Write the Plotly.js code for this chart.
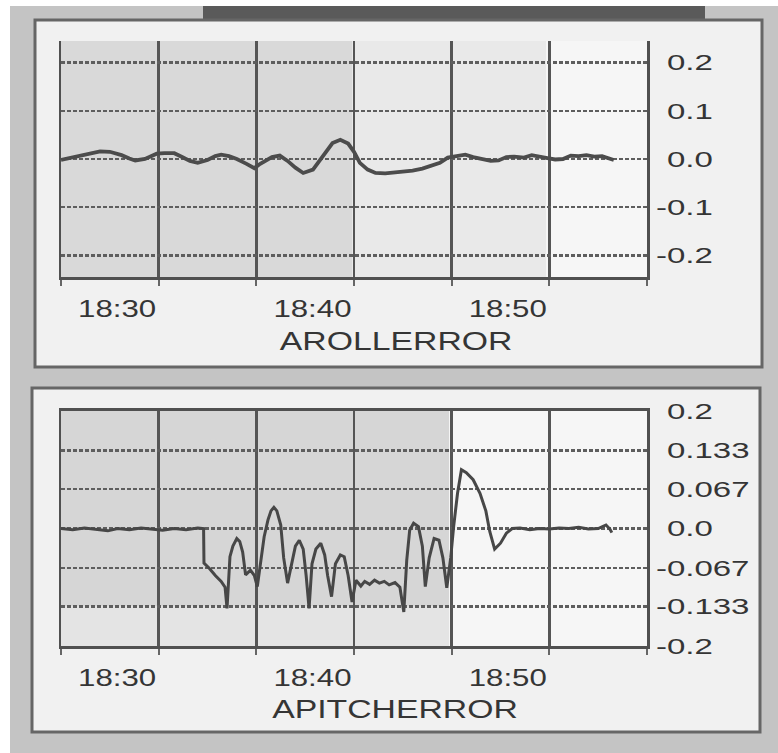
<!DOCTYPE html>
<html>
<head>
<meta charset="utf-8">
<script src="https://cdn.plot.ly/plotly-3.0.1.min.js"></script>
<style>
  html, body { margin: 0; padding: 0; background: #ffffff; }
  #chart { width: 778px; height: 753px; }
</style>
</head>
<body>
<div id="chart"></div>
<script>
// ---- time axis (minutes after 18:00) ----
const tickVals = [25, 30, 35, 40, 45, 50, 55];
const tickText = ['', '18:30', '', '18:40', '', '18:50', ''];

// ---- roll error ----
const rollTime = [25.0, 25.4, 25.9, 26.4, 27.0, 27.5, 28.1, 28.5, 28.8, 29.3,
  29.9, 30.3, 30.8, 31.2, 31.6, 32.0, 32.5, 32.9, 33.2, 33.6,
  34.0, 34.5, 34.9, 35.2, 35.5, 35.8, 36.2, 36.6, 37.0, 37.4,
  37.9, 38.4, 38.9, 39.3, 39.7, 40.0, 40.3, 40.7, 41.1, 41.6,
  42.0, 42.5, 43.0, 43.5, 44.0, 44.4, 44.8, 45.3, 45.7, 46.1,
  46.5, 47.0, 47.4, 47.8, 48.2, 48.7, 49.1, 49.5, 49.9, 50.3,
  50.7, 51.1, 51.5, 51.9, 52.3, 52.7, 53.0, 53.3];
const rollError = [-0.002, 0.002, 0.006, 0.011, 0.016, 0.015, 0.008, 0.001, -0.003, 0.000,
  0.011, 0.012, 0.012, 0.004, -0.004, -0.008, -0.002, 0.006, 0.009, 0.006,
  0.000, -0.010, -0.019, -0.010, -0.004, 0.004, 0.007, -0.004, -0.018, -0.029,
  -0.022, 0.005, 0.033, 0.040, 0.032, 0.015, -0.008, -0.022, -0.029, -0.030,
  -0.028, -0.027, -0.024, -0.020, -0.014, -0.008, 0.003, 0.006, 0.009, 0.004,
  0.000, -0.004, -0.003, 0.004, 0.005, 0.003, 0.008, 0.004, 0.002, -0.001,
  0.000, 0.007, 0.006, 0.008, 0.005, 0.006, 0.001, -0.002];
const rollTickVals = [-0.2, -0.1, 0, 0.1, 0.2];
const rollTickText = ['-0.2', '-0.1', '\u20040.0', '\u20040.1', '\u20040.2'];

// ---- pitch error ----
const pitchTime = [25.0, 25.6, 26.2, 26.8, 27.4, 27.9, 28.5, 29.1, 29.6, 30.2,
  30.8, 31.4, 32.0, 32.3, 32.32, 32.6, 32.9, 33.2, 33.4, 33.5,
  33.65, 33.8, 34.0, 34.15, 34.3, 34.45, 34.7, 34.9, 35.05, 35.2,
  35.4, 35.6, 35.75, 35.9, 36.05, 36.25, 36.4, 36.6, 36.8, 37.0, 37.2,
  37.4, 37.55, 37.7, 37.85, 38.05, 38.3, 38.5, 38.65, 38.85, 39.05,
  39.3, 39.5, 39.7, 39.9, 40.1, 40.35, 40.55, 40.8, 41.05, 41.3,
  41.55, 41.8, 42.1, 42.35, 42.55, 42.7, 42.85, 43.05, 43.3, 43.5,
  43.65, 43.85, 44.1, 44.35, 44.55, 44.75, 44.95, 45.1, 45.3, 45.5,
  45.75, 46.1, 46.45, 46.75, 46.95, 47.2, 47.5, 47.8, 48.1, 48.5,
  49.0, 49.5, 50.0, 50.5, 51.0, 51.5, 52.0, 52.5, 52.9, 53.1, 53.2];
const pitchError = [0.000, -0.002, 0.001, -0.001, -0.004, 0.000, -0.002, 0.001, -0.001, -0.003,
  0.000, -0.002, 0.001, 0.000, -0.059, -0.068, -0.080, -0.090, -0.100, -0.136,
  -0.048, -0.030, -0.017, -0.022, -0.040, -0.079, -0.071, -0.080, -0.099, -0.060,
  -0.014, 0.015, 0.030, 0.036, 0.030, 0.006, -0.050, -0.093, -0.060, -0.030, -0.020,
  -0.035, -0.080, -0.136, -0.060, -0.035, -0.025, -0.045, -0.080, -0.116, -0.060,
  -0.045, -0.048, -0.080, -0.125, -0.088, -0.098, -0.090, -0.095, -0.088, -0.093,
  -0.090, -0.096, -0.092, -0.100, -0.142, -0.054, -0.003, 0.009, 0.003, -0.030,
  -0.099, -0.050, -0.017, -0.020, -0.050, -0.101, -0.050, 0.003, 0.060, 0.100,
  0.095, 0.083, 0.060, 0.030, -0.005, -0.035, -0.025, -0.008, 0.000, 0.001,
  -0.002, 0.000, -0.001, 0.001, 0.000, 0.002, -0.001, 0.000, 0.006, -0.001, -0.007];
const pitchTickVals = [-0.2, -0.133, -0.067, 0, 0.067, 0.133, 0.2];
const pitchTickText = ['-0.2', '-0.133', '-0.067', '\u20040.0', '\u20040.067', '\u20040.133', '\u20040.2'];

const titles = ['AROLLERROR', 'APITCHERROR'];

// ---- page geometry helpers (pixels -> paper) ----
const W = 778, H = 753;
const px = v => v / W;
const py = v => 1 - v / H;

const FONT = 'Liberation Sans, Arial, sans-serif';
const INK = '#353535';

function xAxis(anchor, mirror) {
  return {
    domain: [px(61), px(647)], anchor: anchor, range: [25, 55],
    tickmode: 'array', tickvals: tickVals, ticktext: tickText,
    ticks: 'outside', ticklen: 6, tickwidth: 2, tickcolor: '#666',
    ticklabelposition: 'outside left', ticklabelstandoff: 8,
    tickfont: {family: FONT, size: 24, color: INK},
    showgrid: true, gridcolor: '#555555', gridwidth: 2.5,
    showline: true, linecolor: '#505050', linewidth: 3, mirror: mirror,
    zeroline: false, fixedrange: true
  };
}
function yAxis(anchor, dom, range, vals, text) {
  return {
    domain: dom, anchor: anchor, range: range, side: 'right',
    tickmode: 'array', tickvals: vals, ticktext: text,
    ticks: '', ticklabelstandoff: 2,
    tickfont: {family: FONT, size: 22, color: INK},
    showgrid: true, gridcolor: '#5e5e5e', gridwidth: 2.5, griddash: '4px,2px',
    showline: true, linecolor: '#505050', linewidth: 2.5, mirror: true,
    zeroline: false, fixedrange: true
  };
}

const traces = [
  {x: rollTime, y: rollError, xaxis: 'x', yaxis: 'y', type: 'scatter', mode: 'lines',
   line: {color: '#4c4c4c', width: 3.8}, hoverinfo: 'skip'},
  {x: pitchTime, y: pitchError, xaxis: 'x2', yaxis: 'y2', type: 'scatter', mode: 'lines',
   line: {color: '#474747', width: 3}, hoverinfo: 'skip'}
];

function rect(x0, y0, x1, y1, fill, line, lw) {
  return {type: 'rect', xref: 'paper', yref: 'paper', layer: 'below',
    x0: px(x0), x1: px(x1), y0: py(y1), y1: py(y0),
    fillcolor: fill, line: {color: line || fill, width: lw || 0}};
}

const shapes = [
  rect(10, 6, 778, 753, '#c4c4c4'),
  rect(203, 6, 705, 19, '#5a5a5a'),
  rect(35, 20, 762, 367, '#f1f1f1', '#666666', 3),
  rect(32, 388, 760, 732, '#f1f1f1', '#666666', 3),
  rect(61, 41, 352, 277, '#d9d9d9'),
  rect(352, 41, 546, 277, '#e9e9e9'),
  rect(546, 41, 647, 277, '#f6f6f6'),
  rect(61, 411, 449, 606, '#d6d6d6'),
  rect(61, 606, 449, 646, '#e4e4e4'),
  rect(449, 411, 647, 646, '#f6f6f6')
];

const layout = {
  width: W, height: H, autosize: false,
  margin: {l: 0, r: 0, t: 0, b: 0, pad: 0},
  paper_bgcolor: '#ffffff', plot_bgcolor: 'rgba(0,0,0,0)',
  showlegend: false,
  font: {family: FONT, color: INK},
  xaxis: xAxis('y', false),
  yaxis: yAxis('x', [py(277), py(41)], [-0.245, 0.245], rollTickVals, rollTickText),
  xaxis2: xAxis('y2', true),
  yaxis2: yAxis('x2', [py(646), py(411)], [-0.2, 0.2], pitchTickVals, pitchTickText),
  shapes: shapes,
  annotations: [
    {text: titles[0], xref: 'paper', yref: 'paper', x: px(396), y: py(341),
     xanchor: 'center', yanchor: 'middle', showarrow: false,
     font: {family: FONT, size: 25, color: INK}},
    {text: titles[1], xref: 'paper', yref: 'paper', x: px(395), y: py(709),
     xanchor: 'center', yanchor: 'middle', showarrow: false,
     font: {family: FONT, size: 25, color: INK}}
  ]
};

const gd = document.getElementById('chart');
Plotly.newPlot(gd, traces, layout, {displayModeBar: false, staticPlot: true}).then(() => {
  // the scanned reference text is horizontally stretched; widen glyphs to match
  function stretch(sel, k) {
    gd.querySelectorAll(sel).forEach(el => {
      const w = el.getComputedTextLength();
      if (w > 0) {
        el.setAttribute('textLength', (w * k).toFixed(1));
        el.setAttribute('lengthAdjust', 'spacingAndGlyphs');
      }
    });
  }
  stretch('.xtick text', 1.3);
  stretch('.x2tick text', 1.3);
  stretch('.ytick text', 1.5);
  stretch('.y2tick text', 1.5);
  stretch('.annotation-text', 1.35);
});
</script>
</body>
</html>
